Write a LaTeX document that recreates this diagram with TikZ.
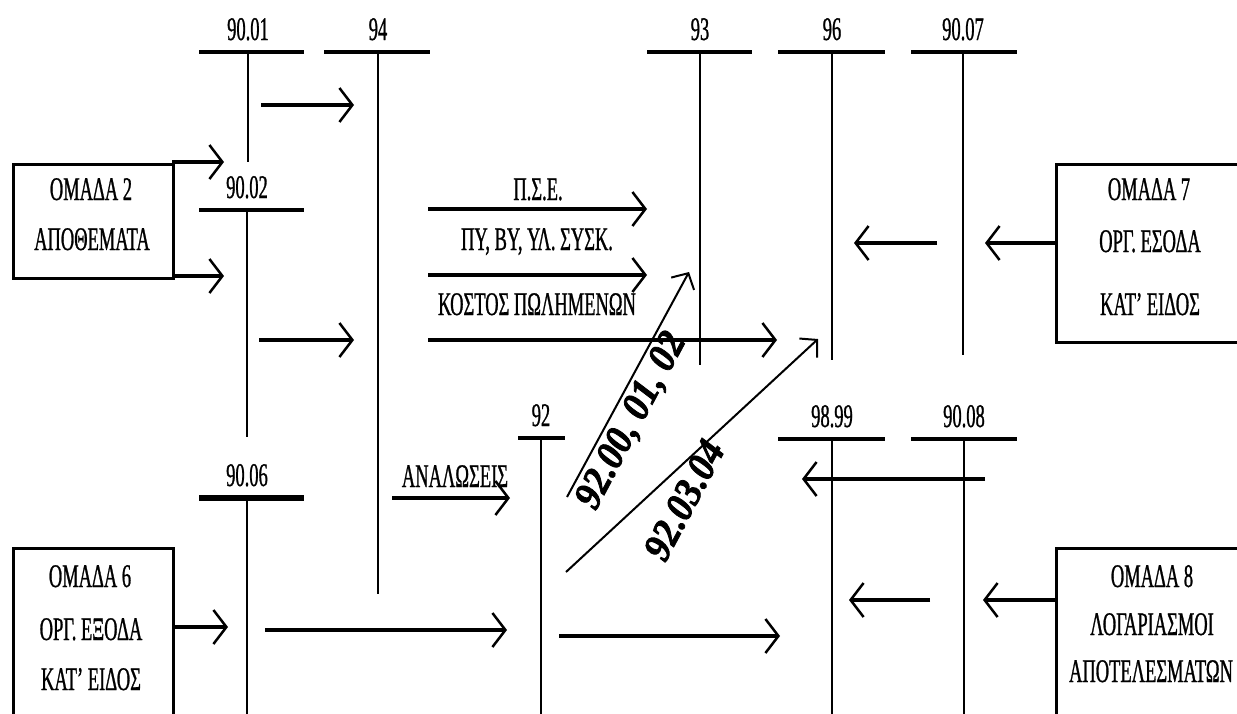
\documentclass[tikz,border=0pt]{standalone}
\usepackage{fontspec}
\setmainfont{Liberation Serif}[FakeStretch=0.56, FakeBold=0.8]
\newfontfamily\diagfont{Liberation Serif}[FakeStretch=0.92, FakeBold=2]
\usetikzlibrary{arrows.meta}
\tikzset{
  lbl/.style={font=\fontsize{33}{36}\selectfont, inner sep=0pt},
  dlbl/.style={font=\diagfont\bfseries\itshape\fontsize{40}{42}\selectfont, inner sep=0pt, rotate=62},
  bar/.style={line width=4pt},
  stem/.style={line width=2pt},
  boxr/.style={draw, line width=3pt},
  arr/.style={line width=3.5pt, -{Straight Barb[length=13pt,width=34pt,line width=2.5pt]}},
  darr/.style={line width=2pt, -{Straight Barb[length=12pt,width=26pt,line width=2pt]}},
}
\newcommand\tacc[7]{% name, label, x, ybar, xleft, xright, yend
  \node[lbl, anchor=base] (#1) at (#3,#4-12) {#2};
  \coordinate (#1L) at (#5,#4);
  \coordinate (#1R) at (#6,#4);
  \coordinate (#1T) at (#3,#4);
  \coordinate (#1B) at (#3,#7);
  \draw[bar] (#1L) -- (#1R);
  \draw[stem] (#1T) -- (#1B);}
\newcommand\harrow[5][]{% [extra], name, x1, x2, y
  \coordinate (#2s) at (#3,#5);
  \coordinate (#2e) at (#4,#5);
  \draw[arr,#1] (#2s) -- (#2e);}
\begin{document}
\begin{tikzpicture}[x=1pt,y=-1pt]
\useasboundingbox (0,0) rectangle (1237,713);
\clip (0,0) rectangle (1237,713);
\fill[white] (0,0) rectangle (1237,713);

% T-accounts
\tacc{t9001}{90.01}{248}{52}{199}{304}{162}
\tacc{t94}{94}{378}{52}{324}{430}{594}
\tacc{t9002}{90.02}{247}{210}{199}{304}{437}
\tacc{t93}{93}{700}{52}{647}{752}{365}
\tacc{t96}{96}{832}{52}{778}{885}{360}
\tacc{t9007}{90.07}{963}{52}{911}{1017}{355}
\tacc{t92}{92}{541}{438}{518}{565}{730}
\tacc{t9899}{98.99}{832}{439}{778}{885}{730}
\tacc{t9008}{90.08}{964}{439}{911}{1017}{730}
\tacc{t9006}{90.06}{247}{498}{199}{304}{730}
\draw[line width=6pt] (t9006L) -- (t9006R);

% boxes
\node[boxr, minimum width=160pt, minimum height=114pt, anchor=north west] (om2) at (12,163) {};
\node[boxr, minimum width=220pt, minimum height=178pt, anchor=north west] (om7) at (1055,163) {};
\node[boxr, minimum width=160pt, minimum height=190pt, anchor=north west] (om6) at (12,547) {};
\node[boxr, minimum width=220pt, minimum height=190pt, anchor=north west] (om8) at (1055,547) {};

\node[lbl, anchor=base] (om2a) at (91,200) {ΟΜΑΔΑ 2};
\node[lbl, anchor=base] (om2b) at (92,250) {ΑΠΟΘΕΜΑΤΑ};
\node[lbl, anchor=base] (om7a) at (1149,200) {ΟΜΑΔΑ 7};
\node[lbl, anchor=base] (om7b) at (1150,252) {ΟΡΓ. ΕΣΟΔΑ};
\node[lbl, anchor=base] (om7c) at (1150,315) {ΚΑΤ' ΕΙΔΟΣ};
\node[lbl, anchor=base] (om6a) at (90,587) {ΟΜΑΔΑ 6};
\node[lbl, anchor=base] (om6b) at (91,640) {ΟΡΓ. ΕΞΟΔΑ};
\node[lbl, anchor=base] (om6c) at (91,690) {ΚΑΤ’ ΕΙΔΟΣ};
\node[lbl, anchor=base] (om8a) at (1152,587) {ΟΜΑΔΑ 8};
\node[lbl, anchor=base] (om8b) at (1152,635) {ΛΟΓΑΡΙΑΣΜΟΙ};
\node[lbl, anchor=base] (om8c) at (1151,682) {ΑΠΟΤΕΛΕΣΜΑΤΩΝ};

% flow labels
\node[lbl, anchor=base] (pse) at (538,200) {Π.Σ.Ε.};
\node[lbl, anchor=base] (pyby) at (537,250) {ΠΥ, ΒΥ, ΥΛ. ΣΥΣΚ.};
\node[lbl, anchor=base] (kost) at (537,315) {ΚΟΣΤΟΣ ΠΩΛΗΜΕΝΩΝ};
\node[lbl, anchor=base] (anal) at (455,487) {ΑΝΑΛΩΣΕΙΣ};

% horizontal arrows
\harrow{a1}{261}{354}{105}
\harrow{a2}{172}{224}{162}
\harrow{a3}{172}{224}{276}
\harrow{a4}{259}{354}{340}
\harrow{a5}{428}{647}{209}
\harrow{a6}{428}{647}{275}
\harrow{a7}{428}{777}{340}
\harrow{a8}{937}{854}{243}
\harrow{a9}{1055}{985}{243}
\harrow{a10}{392}{510}{498}
\harrow{a11}{172}{228}{627}
\harrow{a12}{265}{507}{630}
\harrow{a13}{559}{780}{636}
\harrow[line width=4.5pt]{a14}{985}{802}{479}
\harrow{a15}{1055}{983}{600}
\harrow{a16}{930}{849}{600}

% diagonal arrows
\coordinate (d1s) at (567,497);
\coordinate (d1e) at (689,272);
\coordinate (d2s) at (566,572);
\coordinate (d2e) at (818,339);
\draw[darr] (d1s) -- (d1e);
\draw[darr] (d2s) -- (d2e);
\node[dlbl] (dl1) at (632,421) {92.00, 01, 02};
\node[dlbl] (dl2) at (684,500) {92.03.04};
\end{tikzpicture}
\end{document}
